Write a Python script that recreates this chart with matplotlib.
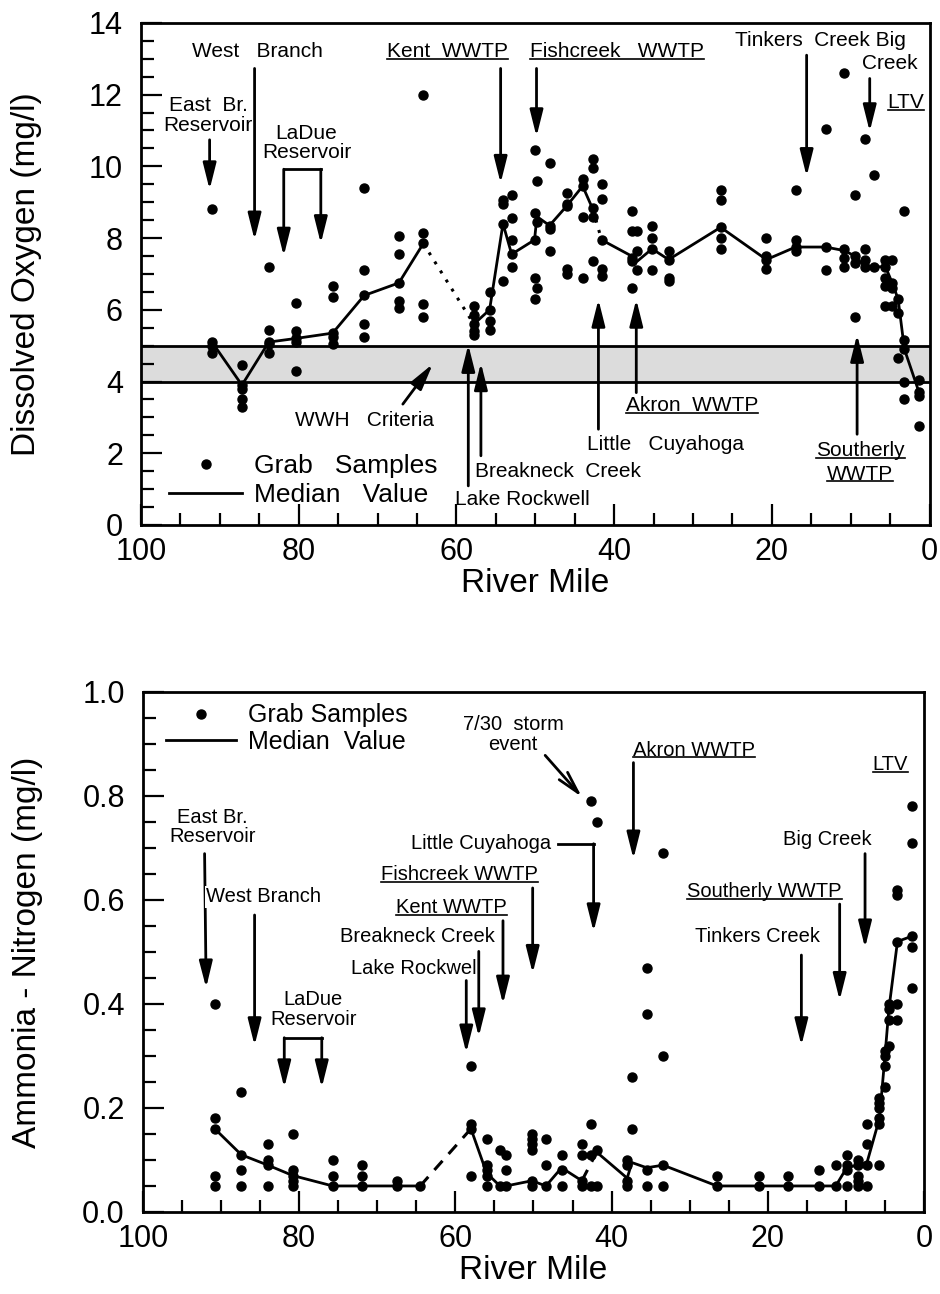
import matplotlib
matplotlib.use('Agg')
import matplotlib.pyplot as plt
from matplotlib.lines import Line2D
import numpy as np

plt.rcParams['font.family'] = ['Liberation Sans', 'DejaVu Sans']

# ---- Dissolved oxygen (top panel) ----
do_sites = [91.0, 87.2, 83.8, 80.4, 75.7, 71.7, 67.3, 64.2, 57.8, 55.8, 54.1, 53.0,
            50.1, 49.8, 48.2, 46.0, 44.0, 42.7, 41.6, 37.8, 37.1, 35.2, 33.1, 26.5,
            20.7, 17.0, 13.2, 10.8, 9.5, 8.2, 7.1, 5.6, 4.75, 4.0, 3.2, 1.35]
do_samples = [
    [8.8, 5.1, 5.0, 4.8], [4.45, 3.9, 3.8, 3.5, 3.3], [7.2, 5.45, 5.1, 5.05, 4.8],
    [6.2, 5.4, 5.2, 5.1, 4.3], [6.65, 6.35, 5.35, 5.25, 5.05], [9.4, 7.1, 6.4, 5.6, 5.25],
    [8.05, 7.55, 6.75, 6.25, 6.05], [12.0, 8.15, 7.85, 6.15, 5.8], [6.1, 5.85, 5.6, 5.4, 5.3],
    [6.5, 6.0, 5.7, 5.45], [9.05, 8.95, 8.4, 6.8], [9.2, 8.55, 7.95, 7.55, 7.2],
    [10.45, 8.7, 7.95, 6.9, 6.3], [9.6, 8.45, 6.6], [10.1, 8.35, 8.25, 7.65],
    [9.25, 8.95, 8.9, 7.15, 7.0], [9.65, 9.45, 8.6, 6.9], [10.2, 9.95, 8.85, 8.6, 7.35],
    [9.5, 9.1, 7.95, 7.15, 6.95], [8.75, 8.2, 7.45, 7.35, 6.6], [8.2, 7.65, 7.1],
    [8.35, 8.0, 7.7, 7.1], [7.65, 7.4, 6.9, 6.8], [9.35, 9.05, 8.3, 8.0, 7.7],
    [8.0, 7.5, 7.4, 7.15], [9.35, 7.95, 7.75, 7.65], [11.05, 7.75, 7.1],
    [12.6, 7.7, 7.45, 7.2], [9.2, 7.5, 7.3, 5.8], [10.75, 7.7, 7.4, 7.2], [9.75, 7.2],
    [7.4, 7.2, 6.9, 6.65, 6.1], [7.4, 6.75, 6.6, 6.1], [6.3, 5.9, 4.65],
    [8.75, 5.15, 4.9, 4.0, 3.5], [4.05, 3.7, 3.6, 2.75]]
do_med_rm = do_sites
do_median = [5.1, 3.9, 5.1, 5.2, 5.35, 6.4, 6.75, 7.85, 5.6, 6.0, 8.4, 7.55,
             7.95, 8.6, 8.35, 8.9, 9.45, 8.8, 7.95, 7.5, 7.35, 7.7, 7.4, 8.3,
             7.4, 7.75, 7.75, 7.65, 7.5, 7.2, 7.2, 7.2, 6.75, 6.3, 4.9, 3.7]
do_gaps = [7, 17]          # median link after these points is dotted
wwh_band = (4, 5)

# ---- Ammonia (bottom panel) ----
nh_sites = [90.8, 87.4, 84.0, 80.8, 75.7, 71.9, 67.5, 64.5, 58.0, 56.0, 54.3, 53.5,
            50.2, 48.4, 46.4, 43.8, 42.6, 41.9, 38.0, 37.4, 35.5, 33.4, 26.5, 21.1,
            17.4, 13.5, 11.3, 9.9, 8.5, 7.3, 5.7, 5.0, 4.5, 3.4, 1.6]
nh_samples = [
    [0.40, 0.18, 0.16, 0.07, 0.05], [0.23, 0.11, 0.08, 0.05], [0.13, 0.10, 0.09, 0.05],
    [0.15, 0.08, 0.07, 0.06, 0.05], [0.10, 0.07, 0.05], [0.09, 0.07, 0.05], [0.06, 0.05],
    [0.05], [0.28, 0.17, 0.16, 0.07], [0.14, 0.09, 0.08, 0.07, 0.05], [0.12, 0.05],
    [0.11, 0.08, 0.05], [0.15, 0.14, 0.13, 0.12, 0.06, 0.05], [0.14, 0.09, 0.05],
    [0.11, 0.08, 0.05], [0.13, 0.11, 0.06, 0.05], [0.79, 0.17, 0.11, 0.05],
    [0.75, 0.12, 0.05], [0.10, 0.09, 0.06, 0.05], [0.26, 0.16], [0.47, 0.38, 0.08, 0.05],
    [0.69, 0.30, 0.09, 0.05], [0.07, 0.05], [0.07, 0.05], [0.07, 0.05], [0.08, 0.05],
    [0.09, 0.05], [0.11, 0.09, 0.08, 0.05], [0.10, 0.09, 0.07, 0.06, 0.05],
    [0.17, 0.13, 0.09, 0.05], [0.22, 0.21, 0.20, 0.18, 0.17, 0.09],
    [0.31, 0.28, 0.24, 0.30], [0.40, 0.39, 0.37, 0.32], [0.62, 0.61, 0.52, 0.40, 0.37],
    [0.78, 0.71, 0.53, 0.51, 0.43]]
nh_med_rm = [90.8, 87.4, 84.0, 80.8, 75.7, 71.9, 67.5, 64.5, 58.0, 56.0, 54.3, 53.5,
             50.2, 48.4, 46.4, 43.8, 41.9, 38.0, 37.4, 35.5, 33.4, 26.5, 21.1, 17.4,
             13.5, 11.3, 9.9, 8.5, 7.3, 5.7, 5.0, 4.5, 3.4, 1.6]
nh_median = [0.16, 0.11, 0.09, 0.07, 0.05, 0.05, 0.05, 0.05, 0.16, 0.075, 0.05, 0.05,
             0.06, 0.05, 0.085, 0.06, 0.115, 0.065, 0.095, 0.085, 0.09, 0.05, 0.05, 0.05,
             0.05, 0.05, 0.085, 0.09, 0.095, 0.18, 0.30, 0.39, 0.52, 0.53]
nh_gaps = [7, 15]

fig = plt.figure(figsize=(9.4, 12.94), dpi=100)
ax1 = fig.add_axes([0.150, 0.5943, 0.839, 0.388])
ax2 = fig.add_axes([0.152, 0.0634, 0.831, 0.4019])


def style(ax, ytop, ystep, yminor, fmt):
    ax.set_xlim(100, 0)
    ax.set_ylim(0, ytop)
    ax.set_xticks(np.arange(0, 101, 20))
    ax.set_xticks(np.arange(0, 101, 5), minor=True)
    ax.set_yticks(np.arange(0, ytop + 1e-9, ystep))
    ax.set_yticks(np.arange(0, ytop + 1e-9, yminor), minor=True)
    ax.yaxis.set_major_formatter(plt.FormatStrFormatter(fmt))
    ax.tick_params(which='both', direction='in', width=1.6, labelsize=22)
    ax.tick_params(which='major', length=15)
    ax.tick_params(which='minor', length=9)
    ax.tick_params(axis='x', pad=9)
    ax.tick_params(axis='y', pad=13)
    for s in ax.spines.values():
        s.set_linewidth(2)


def samples(ax, sites, vals, label):
    xs = np.repeat(sites, [len(v) for v in vals])
    ys = np.concatenate(vals)
    h, = ax.plot(xs, ys, 'o', color='black', ms=6.5, mec='black', label=label)
    return h


def median_line(ax, rm, val, gaps, ls, label):
    start = 0
    h = None
    for b in gaps + [len(rm) - 1]:
        l, = ax.plot(rm[start:b + 1], val[start:b + 1], color='black', lw=2)
        if h is None:
            h = l
        start = b + 1
    for b in gaps:
        ax.plot(rm[b:b + 2], val[b:b + 2], color='black', lw=2.2, ls=ls)
    h.set_label(label)
    return h


def arrow(ax, tail, head, style='-|>'):
    ax.annotate('', xy=head, xytext=tail,
                arrowprops=dict(arrowstyle=style + ',head_length=0.8,head_width=0.2',
                                color='black', lw=2, shrinkA=0, shrinkB=0,
                                mutation_scale=20))


underlined = []


def label(ax, x, y, s, size, ha='center', ul=False, **kw):
    t = ax.text(x, y, s, fontsize=size, ha=ha, va='center', linespacing=1.05, **kw)
    if ul:
        underlined.append(t)
    return t


# ---------- top panel ----------
style(ax1, 14, 2, 0.5, '%d')
ax1.axhspan(*wwh_band, color='#dcdcdc', zorder=0)
for v in wwh_band:
    ax1.axhline(v, color='black', lw=2, zorder=1)
h1 = samples(ax1, do_sites, do_samples, 'Grab   Samples')
h2 = median_line(ax1, do_med_rm, do_median, do_gaps, (0, (1, 2.5)), 'Median   Value')
ax1.legend(handles=[h1, h2], loc='lower left', bbox_to_anchor=(0.035, 0.035),
           frameon=False, fontsize=19, handlelength=2.8, handletextpad=0.45,
           labelspacing=0.2, borderpad=0, borderaxespad=0, numpoints=1)
ax1.set_xlabel('River Mile', fontsize=24)
ax1.set_ylabel('Dissolved Oxygen (mg/l)', fontsize=24)
ax1.xaxis.set_label_coords(0.5, -0.085)
ax1.yaxis.set_label_coords(-0.125, 0.5)

fs = 15
label(ax1, 85.2, 13.19, 'West   Branch', fs)
arrow(ax1, (85.6, 12.73), (85.6, 7.95))
label(ax1, 91.5, 11.42, 'East  Br.\nReservoir', fs)
arrow(ax1, (91.3, 10.74), (91.3, 9.35))
label(ax1, 79.0, 10.65, 'LaDue\nReservoir', fs)
ax1.plot([81.9, 77.2], [9.92, 9.92], color='black', lw=2)
arrow(ax1, (81.9, 9.92), (81.9, 7.5))
arrow(ax1, (77.2, 9.92), (77.2, 7.85))
label(ax1, 71.6, 2.9, 'WWH   Criteria', fs)
arrow(ax1, (66.8, 3.37), (63.0, 4.49))
label(ax1, 61.2, 13.19, 'Kent  WWTP', fs, ul=True)
arrow(ax1, (54.4, 12.73), (54.4, 9.53))
label(ax1, 39.7, 13.19, 'Fishcreek   WWTP', fs, ul=True)
arrow(ax1, (49.85, 12.73), (49.85, 10.83))
arrow(ax1, (58.5, 1.09), (58.5, 5.03))
label(ax1, 60.2, 0.72, 'Lake Rockwell', fs, ha='left')
arrow(ax1, (56.9, 1.93), (56.9, 4.52))
label(ax1, 57.6, 1.48, 'Breakneck  Creek', fs, ha='left')
arrow(ax1, (42.0, 2.67), (42.0, 6.29))
label(ax1, 43.4, 2.25, 'Little   Cuyahoga', fs, ha='left')
arrow(ax1, (37.2, 3.69), (37.2, 6.29))
label(ax1, 38.5, 3.33, 'Akron  WWTP', fs, ha='left', ul=True)
label(ax1, 13.9, 13.5, 'Tinkers  Creek Big', fs)
label(ax1, 5.0, 12.86, 'Creek', fs)
arrow(ax1, (15.6, 13.1), (15.6, 9.72))
arrow(ax1, (7.6, 12.45), (7.6, 10.97))
label(ax1, 3.0, 11.78, 'LTV', fs, ul=True)
arrow(ax1, (9.2, 2.53), (9.2, 5.31))
label(ax1, 8.8, 2.07, 'Southerly', fs, ul=True)
label(ax1, 8.8, 1.42, 'WWTP', fs, ul=True)

# ---------- bottom panel ----------
style(ax2, 1.0, 0.2, 0.05, '%.1f')
g1 = samples(ax2, nh_sites, nh_samples, 'Grab Samples')
g2 = median_line(ax2, nh_med_rm, nh_median, nh_gaps, (0, (4, 3)), 'Median  Value')
ax2.legend(handles=[g1, g2], loc='upper left', bbox_to_anchor=(0.03, 0.978),
           frameon=False, fontsize=18, handlelength=2.8, handletextpad=0.45,
           labelspacing=0.1, borderpad=0, borderaxespad=0, numpoints=1)
ax2.set_xlabel('River Mile', fontsize=24)
ax2.set_ylabel('Ammonia - Nitrogen (mg/l)', fontsize=24)
ax2.xaxis.set_label_coords(0.5, -0.082)
ax2.yaxis.set_label_coords(-0.128, 0.5)

fs2 = 14.5
label(ax2, 91.1, 0.74, 'East Br.\nReservoir', fs2)
arrow(ax2, (92.1, 0.689), (91.9, 0.431))
label(ax2, 91.9, 0.606, 'West Branch', fs2, ha='left',
      bbox=dict(facecolor='white', edgecolor='none', pad=1))
arrow(ax2, (85.7, 0.571), (85.7, 0.32))
label(ax2, 78.2, 0.39, 'LaDue\nReservoir', fs2)
ax2.plot([81.9, 77.1], [0.335, 0.335], color='black', lw=2)
arrow(ax2, (81.9, 0.335), (81.9, 0.239))
arrow(ax2, (77.1, 0.335), (77.1, 0.239))
label(ax2, 52.6, 0.918, '7/30  storm\nevent', fs2)
arrow(ax2, (48.5, 0.878), (43.8, 0.798), style='->')
label(ax2, 47.7, 0.708, 'Little Cuyahoga', fs2, ha='right')
ax2.plot([46.8, 42.3], [0.708, 0.708], color='black', lw=2)
arrow(ax2, (42.3, 0.708), (42.3, 0.539))
label(ax2, 49.4, 0.648, 'Fishcreek WWTP', fs2, ha='right', ul=True)
arrow(ax2, (50.1, 0.623), (50.1, 0.459))
label(ax2, 53.4, 0.585, 'Kent WWTP', fs2, ha='right', ul=True)
arrow(ax2, (53.9, 0.56), (53.9, 0.40))
label(ax2, 54.9, 0.529, 'Breakneck Creek', fs2, ha='right')
arrow(ax2, (57.0, 0.501), (57.0, 0.337))
label(ax2, 57.3, 0.468, 'Lake Rockwel', fs2, ha='right')
arrow(ax2, (58.6, 0.445), (58.6, 0.306))
label(ax2, 29.4, 0.888, 'Akron WWTP', fs2, ul=True)
arrow(ax2, (37.2, 0.864), (37.2, 0.679))
label(ax2, 4.3, 0.86, 'LTV', fs2, ul=True)
label(ax2, 12.4, 0.717, 'Big Creek', fs2)
arrow(ax2, (7.55, 0.689), (7.55, 0.508))
label(ax2, 20.4, 0.616, 'Southerly WWTP', fs2, ul=True)
arrow(ax2, (10.8, 0.592), (10.8, 0.407))
label(ax2, 21.3, 0.529, 'Tinkers Creek', fs2)
arrow(ax2, (15.7, 0.494), (15.7, 0.32))

# underline the plant names
fig.canvas.draw()
r = fig.canvas.get_renderer()
W, H = fig.bbox.width, fig.bbox.height
for t in underlined:
    bb = t.get_window_extent(r)
    y = (bb.y0 + 2.5) / H
    fig.add_artist(Line2D([bb.x0 / W, bb.x1 / W], [y, y], color='black', lw=1.2))

fig.savefig('out.png', dpi=100)
